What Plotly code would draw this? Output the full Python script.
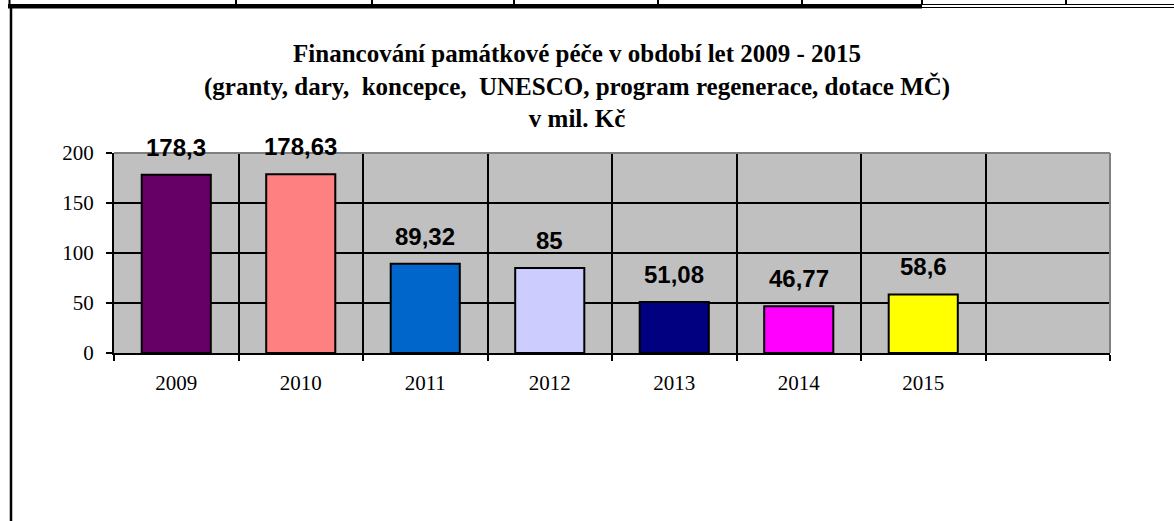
import plotly.graph_objects as go

# ---- data ----
years = ["2009", "2010", "2011", "2012", "2013", "2014", "2015"]
values = [178.3, 178.63, 89.32, 85, 51.08, 46.77, 58.6]
value_labels = ["178,3", "178,63", "89,32", "85", "51,08", "46,77", "58,6"]
bar_colors = ["#660066", "#FF8080", "#0066CC", "#CCCCFF", "#000080", "#FF00FF", "#FFFF00"]
extra_category = [" "]  # empty slot at the end of the category axis
y_ticks = [0, 50, 100, 150, 200]

title_lines = [
    "Financování památkové péče v období let 2009 - 2015",
    "(granty, dary,  koncepce,  UNESCO, program regenerace, dotace MČ)",
    "v mil. Kč",
]

# ---- geometry (pixels) ----
W, H = 1174, 521
L, R, T, B = 114, 64, 153, 168
PW, PH = W - L - R, H - T - B


def px(x):
    return (x - L) / PW


def py(y):
    return (H - B - y) / PH


fig = go.Figure()
fig.add_trace(go.Bar(
    x=years, y=values,
    marker=dict(color=bar_colors, line=dict(color="black", width=2)),
    hoverinfo="x+y",
    showlegend=False,
))

# value labels above bars (x given as category index)
for i, (v, lab) in enumerate(zip(values, value_labels)):
    fig.add_annotation(
        xref="x", yref="y", x=i, y=v, text=f"<b>{lab}</b>", showarrow=False,
        xanchor="center", yanchor="bottom", yshift=12,
        font=dict(family="Liberation Sans, Arial", size=24, color="black"),
    )

# title
fig.add_annotation(
    xref="paper", yref="paper", x=px(577), y=py(86),
    xanchor="center", yanchor="middle", showarrow=False,
    text="<br>".join(f"<b>{t}</b>" for t in title_lines),
    font=dict(family="Liberation Serif, Times New Roman", size=25, color="black"),
)

shapes = []
# grey border top and right of plot area
shapes.append(dict(type="line", xref="paper", yref="paper", x0=0, x1=1, y0=1, y1=1,
                   line=dict(color="#808080", width=2)))
shapes.append(dict(type="line", xref="paper", yref="paper", x0=1, x1=1, y0=0, y1=1,
                   line=dict(color="#808080", width=2)))
# page table decorations
shapes.append(dict(type="rect", xref="paper", yref="paper", x0=px(8), x1=px(922), y0=py(8.5), y1=py(4),
                   fillcolor="black", line=dict(width=0)))
shapes.append(dict(type="line", xref="paper", yref="paper", x0=px(922), x1=px(1174), y0=py(4.5), y1=py(4.5),
                   line=dict(color="black", width=1)))
shapes.append(dict(type="line", xref="paper", yref="paper", x0=px(922), x1=px(1174), y0=py(7.5), y1=py(7.5),
                   line=dict(color="black", width=1)))
for xv in [9.5, 236, 372, 514, 658, 802, 922, 1066]:
    shapes.append(dict(type="line", xref="paper", yref="paper", x0=px(xv), x1=px(xv), y0=py(0), y1=py(5),
                       line=dict(color="black", width=2)))
shapes.append(dict(type="line", xref="paper", yref="paper", x0=px(11), x1=px(11), y0=py(8), y1=py(521),
                   line=dict(color="black", width=2.5)))

fig.update_layout(
    width=W, height=H,
    margin=dict(l=L, r=R, t=T, b=B, pad=0),
    paper_bgcolor="white", plot_bgcolor="#C0C0C0",
    bargap=0.445,
    shapes=shapes,
    xaxis=dict(
        type="category", categoryorder="array", categoryarray=years + extra_category,
        range=[-0.5, len(years) + len(extra_category) - 0.5],
        tickson="boundaries", ticks="outside", ticklen=6, tickwidth=2, tickcolor="black",
        showgrid=True, gridcolor="black", gridwidth=2,
        showline=True, linecolor="black", linewidth=2,
        tickfont=dict(family="Liberation Serif, Times New Roman", size=21, color="black"),
        ticklabelstandoff=10,
        fixedrange=True,
    ),
    yaxis=dict(
        range=[0, 200], tickvals=y_ticks, ticks="outside", ticklen=6, tickwidth=2, tickcolor="black",
        showgrid=True, gridcolor="black", gridwidth=2, zeroline=False,
        showline=True, linecolor="black", linewidth=2,
        tickfont=dict(family="Liberation Serif, Times New Roman", size=21, color="black"),
        ticklabelstandoff=8,
        fixedrange=True,
    ),
)

fig.write_html(
    "out.html",
    config={"displayModeBar": False},
    post_script="document.body.style.margin='0';document.body.style.overflow='hidden';",
)
